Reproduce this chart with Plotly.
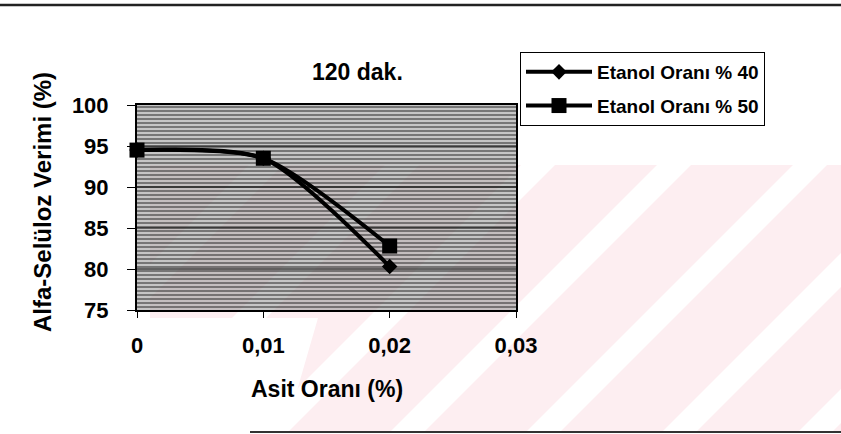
import plotly.graph_objects as go

# Data: alpha-cellulose yield vs acid ratio at 120 min
asit_orani = [0, 0.01, 0.02]
etanol_40 = [94.5, 93.5, 80.3]
etanol_50 = [94.5, 93.5, 82.8]
series_names = ["Etanol Oranı % 40", "Etanol Oranı % 50"]
x_ticks = [0, 0.01, 0.02, 0.03]
x_tick_labels = ["0", "0,01", "0,02", "0,03"]
y_ticks = [75, 80, 85, 90, 95, 100]
grid_values = [80, 85, 90, 95]
x_range = [0, 0.03]
y_range = [75, 100]

W, H = 841, 434
L, R, T, B = 137, 325, 105, 124
PW, PH = W - L - R, H - T - B


def px(x):
    return (x - L) / PW


def py(y):
    return (H - B - y) / PH


FONT = "Liberation Sans, Arial, sans-serif"
BLACK = "#000000"

fig = go.Figure()

# hatched plot-area background
fig.add_trace(go.Scatter(
    x=[x_range[0], x_range[1], x_range[1], x_range[0], x_range[0]],
    y=[y_range[0], y_range[0], y_range[1], y_range[1], y_range[0]],
    mode="none", fill="toself",
    fillpattern=dict(shape="-", fgcolor="#141414",
                     bgcolor="rgba(185,185,185,0.55)", size=4, solidity=0.6),
    showlegend=False, hoverinfo="skip",
))

fig.add_trace(go.Scatter(
    x=asit_orani, y=etanol_40, name=series_names[0], legendgroup="a",
    mode="lines+markers",
    line=dict(color=BLACK, width=4, shape="spline", smoothing=0.7),
    marker=dict(symbol="diamond", size=12, color=BLACK), cliponaxis=False,
))
fig.add_trace(go.Scatter(
    x=asit_orani, y=etanol_50, name=series_names[1], legendgroup="b",
    mode="lines+markers",
    line=dict(color=BLACK, width=4, shape="spline", smoothing=0.7),
    marker=dict(symbol="square", size=15, color=BLACK), cliponaxis=False,
))

shapes = []
# pale striped background emblem
pink = [(150, 165), (841, 165), (841, 432), (285, 432), (318, 318), (150, 318)]
path = "M " + " L ".join(f"{px(a)},{py(b)}" for a, b in pink) + " Z"
shapes.append(dict(type="path", xref="paper", yref="paper", path=path,
                   fillcolor="#fdeef1", line=dict(width=0), layer="below"))
for k in range(-2, 6):
    s = 385 + 136 * k
    d = 432 - 165
    pts = [(s, 165), (s + 34, 165), (s + 34 - d, 432), (s - d, 432)]
    p = "M " + " L ".join(f"{px(a)},{py(b)}" for a, b in pts) + " Z"
    shapes.append(dict(type="path", xref="paper", yref="paper", path=p,
                       fillcolor="white", line=dict(width=0), layer="below"))

# horizontal gridlines over the hatch
for g in grid_values:
    shapes.append(dict(type="line", xref="x domain", yref="y", x0=0, x1=1,
                       y0=g, y1=g, line=dict(color=BLACK, width=1), layer="above"))

# page rules
shapes.append(dict(type="line", xref="paper", yref="paper", x0=px(0), x1=px(841),
                   y0=py(5), y1=py(5), line=dict(color="#222", width=2.5)))
shapes.append(dict(type="line", xref="paper", yref="paper", x0=px(250), x1=px(841),
                   y0=py(432), y1=py(432), line=dict(color="#333", width=2)))

tick_font = dict(family=FONT, size=22, color=BLACK, weight="bold")
annotations = [
    dict(text="120 dak.", x=px(357), y=py(72), xref="paper", yref="paper",
         xanchor="center", yanchor="middle", showarrow=False,
         font=dict(family=FONT, size=23, color=BLACK, weight="bold")),
    dict(text="Asit Oranı (%)", x=px(327), y=py(389), xref="paper", yref="paper",
         xanchor="center", yanchor="middle", showarrow=False,
         font=dict(family=FONT, size=23, color=BLACK, weight="bold")),
    dict(text="Alfa-Selüloz Verimi (%)", x=px(42), y=py(202), xref="paper", yref="paper",
         xanchor="center", yanchor="middle", showarrow=False, textangle=-90,
         font=dict(family=FONT, size=24, color=BLACK, weight="bold")),
]

fig.update_layout(
    width=W, height=H,
    margin=dict(l=L, r=R, t=T, b=B, autoexpand=False),
    paper_bgcolor="white", plot_bgcolor="rgba(0,0,0,0)",
    shapes=shapes, annotations=annotations,
    legend=dict(x=px(520), y=py(52), xanchor="left", yanchor="top",
                bordercolor=BLACK, borderwidth=1, bgcolor="white",
                font=dict(family=FONT, size=19, color=BLACK, weight="bold"),
                traceorder="grouped", tracegroupgap=6, itemwidth=66),
    xaxis=dict(range=x_range, tickvals=x_ticks, ticktext=x_tick_labels,
               showgrid=False, zeroline=False, ticks="outside", ticklen=6,
               tickcolor=BLACK, showline=True, linecolor=BLACK, linewidth=2,
               mirror=True, tickfont=tick_font, ticklabelstandoff=9),
    yaxis=dict(range=y_range, tickvals=y_ticks, showgrid=False, zeroline=False,
               ticks="outside", ticklen=8, tickcolor=BLACK, showline=True,
               linecolor=BLACK, linewidth=2, mirror=True, tickfont=tick_font,
               ticklabelstandoff=14),
)

fig.write_html("out.html")
